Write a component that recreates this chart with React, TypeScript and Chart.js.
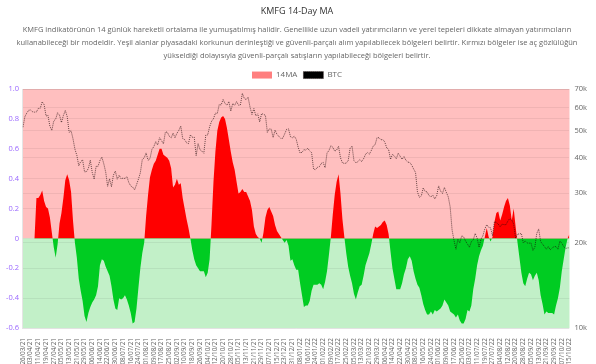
import React, { useEffect, useRef } from 'react';
import { Chart, registerables } from 'chart.js';

Chart.register(...registerables);

// 14-day MA of the KMFG indicator, one value every 2 days from 26/03/21 to 15/10/22
const ma14: number[] = [
  0, 0, 0, 0, 0, 0, 0, 0.27, 0.27, 0.29,
  0.32, 0.25, 0.21, 0.2, 0.14, 0.04, -0.06, -0.13, -0.04, 0.1,
  0.17, 0.27, 0.39, 0.43, 0.39, 0.31, 0.12, -0.03, -0.13, -0.27,
  -0.35, -0.42, -0.52, -0.56, -0.5, -0.46, -0.43, -0.41, -0.38, -0.32,
  -0.18, -0.14, -0.15, -0.19, -0.22, -0.25, -0.32, -0.41, -0.47, -0.48,
  -0.4, -0.41, -0.4, -0.38, -0.41, -0.45, -0.5, -0.57, -0.56, -0.47,
  -0.33, -0.2, -0.1, -0.03, 0.15, 0.29, 0.41, 0.46, 0.5, 0.52,
  0.56, 0.6, 0.6, 0.56, 0.55, 0.54, 0.52, 0.47, 0.34, 0.36,
  0.4, 0.36, 0.37, 0.27, 0.2, 0.13, 0.07, 0, -0.08, -0.14,
  -0.18, -0.2, -0.22, -0.22, -0.22, -0.26, -0.23, -0.14, 0.1, 0.38,
  0.58, 0.72, 0.78, 0.81, 0.82, 0.8, 0.74, 0.66, 0.58, 0.51,
  0.46, 0.38, 0.3, 0.31, 0.33, 0.31, 0.31, 0.28, 0.25, 0.19,
  0.08, 0.03, 0.01, 0, -0.03, 0.04, 0.14, 0.19, 0.21, 0.18,
  0.15, 0.09, 0.05, 0.03, 0.01, -0.01, -0.03, -0.01, -0.05, -0.15,
  -0.14, -0.18, -0.21, -0.21, -0.3, -0.38, -0.46, -0.45, -0.45, -0.42,
  -0.35, -0.31, -0.31, -0.31, -0.3, -0.31, -0.34, -0.29, -0.22, -0.11,
  0.01, 0.16, 0.29, 0.38, 0.43, 0.3, 0.13, 0.01, -0.1, -0.19,
  -0.25, -0.3, -0.37, -0.41, -0.36, -0.32, -0.31, -0.25, -0.18, -0.14,
  -0.1, -0.04, 0.03, 0.08, 0.07, 0.08, 0.09, 0.11, 0.12, 0.09,
  0.03, -0.09, -0.2, -0.27, -0.34, -0.34, -0.34, -0.3, -0.24, -0.2,
  -0.14, -0.12, -0.15, -0.22, -0.27, -0.31, -0.33, -0.38, -0.44, -0.48,
  -0.51, -0.51, -0.49, -0.51, -0.48, -0.49, -0.48, -0.47, -0.45, -0.41,
  -0.43, -0.45, -0.49, -0.5, -0.51, -0.53, -0.51, -0.55, -0.57, -0.57,
  -0.54, -0.48, -0.49, -0.45, -0.34, -0.27, -0.18, -0.12, -0.08, -0.05,
  0.01, 0.07, 0.01, -0.02, 0.01, 0.11, 0.17, 0.18, 0.12, 0.16,
  0.21, 0.25, 0.27, 0.22, 0.12, 0.2, 0.08, -0.03, -0.13, -0.23,
  -0.3, -0.32, -0.27, -0.23, -0.24, -0.28, -0.25, -0.23, -0.28, -0.38,
  -0.44, -0.51, -0.49, -0.5, -0.5, -0.5, -0.51, -0.45, -0.4, -0.33,
  -0.22, -0.14, -0.06, 0, 0.03,
];

// BTC price in thousands of USD, same dates
const btcK: number[] = [
  51.3, 55.9, 57.6, 58.9, 59.0, 58.2, 58.0, 58.1, 59.8, 59.9,
  63.1, 61.6, 56.2, 56.5, 51.7, 50.0, 54.0, 54.8, 57.7, 56.6,
  53.3, 56.4, 58.8, 55.9, 49.2, 49.9, 46.7, 42.9, 40.8, 37.5,
  38.8, 39.3, 35.7, 35.7, 36.7, 39.2, 35.5, 33.6, 37.3, 37.3,
  39.1, 40.2, 38.1, 35.6, 31.7, 33.7, 31.6, 34.7, 35.9, 33.6,
  34.7, 33.7, 33.9, 33.8, 34.3, 32.7, 31.8, 31.5, 30.8, 32.1,
  33.6, 35.4, 39.4, 40.0, 41.6, 39.2, 39.7, 42.8, 43.8, 45.6,
  44.4, 47.1, 46.0, 44.8, 49.3, 49.3, 47.7, 47.0, 48.9, 47.1,
  48.8, 50.0, 51.8, 46.8, 46.4, 45.2, 44.9, 48.2, 47.3, 47.3,
  40.7, 44.9, 42.7, 42.2, 41.5, 48.1, 48.2, 51.5, 53.8, 55.0,
  57.5, 57.4, 61.7, 61.5, 64.3, 62.2, 61.4, 63.2, 58.5, 62.2,
  61.3, 63.2, 61.4, 61.5, 67.6, 64.9, 64.2, 65.5, 60.4, 56.9,
  59.7, 56.3, 57.2, 53.6, 57.3, 57.0, 56.5, 49.2, 50.6, 50.5,
  47.2, 50.1, 48.4, 47.6, 46.8, 46.9, 48.6, 50.4, 50.6, 47.5,
  47.1, 47.7, 46.5, 43.6, 41.6, 41.8, 42.7, 42.6, 43.2, 42.3,
  41.7, 36.5, 36.3, 37.0, 37.2, 38.2, 38.5, 36.9, 41.6, 42.4,
  44.1, 43.6, 42.2, 42.6, 43.9, 40.0, 38.4, 38.2, 38.3, 39.1,
  43.2, 44.0, 39.1, 38.4, 38.7, 39.4, 38.8, 39.7, 41.1, 41.8,
  41.2, 42.4, 44.0, 44.5, 47.1, 47.1, 46.3, 46.4, 45.5, 43.4,
  42.8, 39.5, 41.1, 40.6, 39.7, 41.5, 40.5, 39.5, 40.4, 39.2,
  38.6, 38.5, 37.7, 36.5, 35.5, 30.3, 29.0, 29.3, 31.3, 30.4,
  30.3, 29.4, 29.1, 29.5, 28.6, 29.4, 31.8, 30.5, 29.9, 31.4,
  30.2, 29.1, 26.8, 22.2, 20.4, 19.0, 20.6, 20.0, 21.2, 21.0,
  20.3, 19.8, 19.3, 20.2, 20.5, 21.6, 20.8, 19.3, 20.6, 21.2,
  22.4, 23.2, 22.7, 22.6, 21.2, 23.8, 23.6, 23.3, 22.8, 23.3,
  23.2, 23.2, 23.9, 24.4, 24.1, 23.3, 20.8, 21.5, 21.5, 21.6,
  20.0, 20.3, 20.0, 19.95, 20.0, 18.8, 19.3, 21.6, 22.4, 20.2,
  19.8, 19.4, 19.0, 19.4, 18.9, 19.2, 19.4, 19.4, 19.0, 20.3,
  19.95, 19.4, 19.1, 19.2, 19.2,
];

// right axis tick labels (thousands of USD)
const btcTicks: number[] = [10, 20, 30, 40, 50, 60, 70];

const TITLE = 'KMFG 14-Day MA';
const SUBTITLE_LINES = [
  'KMFG indikatörünün 14 günlük hareketli ortalama ile yumuşatılmış halidir. Genellikle uzun vadeli yatırımcıların ve yerel tepeleri dikkate almayan yatırımcıların',
  'kullanabileceği bir modeldir. Yeşil alanlar piyasadaki korkunun derinleştiği ve güvenli-parçalı alım yapılabilecek bölgeleri belirtir. Kırmızı bölgeler ise aç gözlülüğün',
  'yükseldiği dolayısıyla güvenli-parçalı satışların yapılabileceği bölgeleri belirtir.',
];
const START = { y: 2021, m: 2, d: 26 };
const STEP_DAYS = 2;
const LABEL_EVERY = 4;

const pad2 = (n: number) => String(n).padStart(2, '0');
const categories = ma14.map((_, i) => {
  const dt = new Date(Date.UTC(START.y, START.m, START.d + i * STEP_DAYS));
  return `${pad2(dt.getUTCDate())}/${pad2(dt.getUTCMonth() + 1)}/${String(dt.getUTCFullYear()).slice(2)}`;
});

const FONT = "'Open Sans', 'DejaVu Sans', sans-serif";

const zonePlugin = {
  id: 'zoneBackground',
  beforeDraw(chart: any) {
    const { ctx, chartArea: a, scales } = chart;
    if (!a) return;
    const y0 = scales.y.getPixelForValue(0);
    ctx.save();
    ctx.fillStyle = 'rgb(255,191,191)';
    ctx.fillRect(a.left, a.top, a.right - a.left, y0 - a.top);
    ctx.fillStyle = 'rgb(194,240,200)';
    ctx.fillRect(a.left, y0, a.right - a.left, a.bottom - y0);
    ctx.restore();
  },
};

export default function App() {
  const ref = useRef<HTMLCanvasElement | null>(null);
  useEffect(() => {
    document.body.style.margin = '0';
    const canvas = ref.current;
    if (!canvas) return;
    const chart = new Chart(canvas, {
      type: 'line',
      data: {
        labels: categories,
        datasets: [
          {
            label: '14MA',
            data: ma14,
            yAxisID: 'y',
            backgroundColor: 'rgba(255,0,0,0.5)',
            borderColor: 'rgba(255,0,0,0)',
            borderWidth: 0,
            pointRadius: 0,
            tension: 0,
            fill: { target: 'origin', above: 'rgb(255,0,0)', below: 'rgb(0,204,34)' },
          },
          {
            label: 'BTC',
            data: btcK,
            yAxisID: 'y1',
            backgroundColor: '#000',
            borderColor: 'rgba(30,10,10,0.75)',
            borderWidth: 0.9,
            borderDash: [1, 1],
            pointRadius: 0,
            tension: 0,
            fill: false,
          },
        ],
      },
      options: {
        responsive: false,
        animation: false,
        layout: { padding: { left: 2, right: 4, top: 0, bottom: 0 } },
        plugins: {
          filler: { drawTime: 'beforeDatasetsDraw' },
          tooltip: { enabled: false },
          title: {
            display: true,
            text: TITLE,
            color: '#333',
            font: { family: FONT, size: 9, weight: 'normal' },
            padding: { top: 6, bottom: 7 },
          },
          subtitle: {
            display: true,
            text: SUBTITLE_LINES,
            color: '#666',
            font: { family: FONT, size: 7.5, lineHeight: 1.7 },
            padding: { top: 0, bottom: 3 },
          },
          legend: {
            labels: {
              boxWidth: 20,
              boxHeight: 7,
              color: '#666',
              font: { family: FONT, size: 8 },
              padding: 6,
            },
          },
        },
        scales: {
          x: {
            grid: { display: false },
            border: { display: false },
            afterFit: (scale: any) => {
              scale.height = 36;
            },
            ticks: {
              autoSkip: false,
              minRotation: 90,
              maxRotation: 90,
              color: '#666',
              padding: 2,
              font: { family: FONT, size: 6.4 },
              callback: (_v: any, i: number) => (i % LABEL_EVERY === 0 ? categories[i] : null),
            },
          },
          y: {
            position: 'left',
            min: -0.6,
            max: 1.0,
            grid: { color: 'rgba(0,0,0,0.06)', drawTicks: false },
            border: { display: true, color: 'rgba(0,0,0,0.1)' },
            ticks: {
              stepSize: 0.2,
              color: '#9966ff',
              padding: 4,
              font: { family: FONT, size: 7.5 },
              callback: (v: any) => {
                const r = Math.round(Number(v) * 10) / 10;
                return r === 0 ? '0' : r.toFixed(1);
              },
            },
          },
          y1: {
            type: 'logarithmic',
            position: 'right',
            min: 10,
            max: 70,
            grid: { color: 'rgba(0,0,0,0.06)', drawTicks: false },
            border: { display: false },
            afterBuildTicks: (scale: any) => {
              scale.ticks = btcTicks.map((v) => ({ value: v }));
            },
            ticks: {
              color: '#666',
              padding: 5,
              font: { family: FONT, size: 7.5 },
              callback: (v: any) => `${Math.round(Number(v))}k`,
            },
          },
        },
      },
      plugins: [zonePlugin],
    } as any);
    return () => chart.destroy();
  }, []);
  return <canvas ref={ref} width={596} height={364} style={{ display: 'block' }} />;
}
